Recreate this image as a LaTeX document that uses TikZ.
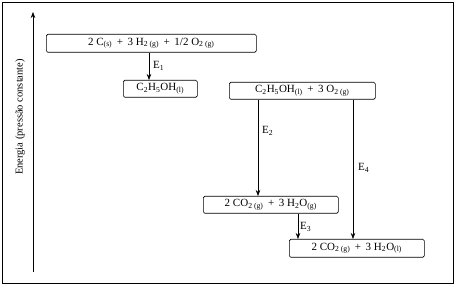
\documentclass[tikz,border=0pt]{standalone}
\usepackage{fontspec}
\setmainfont{Liberation Serif}
\usetikzlibrary{arrows.meta}
\newcommand\sbs[1]{\textsubscript{#1}}
\newcommand\pl{\ \,+\ \,}
\tikzset{
  lvl/.style={draw, rounded corners=1.5pt, line width=0.6pt, inner sep=0pt, font=\fontsize{11}{12}\selectfont, anchor=north west},
  arr/.style={-{Stealth[length=6pt,width=4.5pt]}, line width=0.6pt},
  lab/.style={font=\fontsize{11}{12}\selectfont, anchor=west, inner sep=1pt}
}
\begin{document}
\begin{tikzpicture}[x=1pt,y=-1pt]
\useasboundingbox (0,0) rectangle (456,286);
\draw[line width=0.8pt] (2,2) rectangle (453,283);
% axis
\coordinate (ax0) at (33,272);
\coordinate (ax1) at (33,12);
\draw[arr] (ax0) -- (ax1);
\node[rotate=90, font=\fontsize{10.5}{12}\selectfont] (axl) at (20,117) {Energia (pressão constante)};
% levels
\node[lvl, minimum width=210pt, minimum height=18pt] (b1) at (46,34) {2 C\sbs{(s)}\pl 3 H\sbs{2 (g)}\pl 1/2 O\sbs{2 (g)}};
\node[lvl, minimum width=74pt, minimum height=17pt] (b2) at (123,80) {C\sbs{2}H\sbs{5}OH\sbs{(l)}};
\node[lvl, minimum width=146pt, minimum height=17pt] (b3) at (229,82) {C\sbs{2}H\sbs{5}OH\sbs{(l)}\pl 3 O\sbs{2 (g)}};
\node[lvl, minimum width=135pt, minimum height=17pt] (b4) at (203,196) {2 CO\sbs{2 (g)}\pl 3 H\sbs{2}O\sbs{(g)}};
\node[lvl, minimum width=135pt, minimum height=18pt] (b5) at (289,239) {2 CO\sbs{2 (g)}\pl 3 H\sbs{2}O\sbs{(l)}};
% arrows
\draw[arr] (b1.south -| 149,0) -- (b2.north -| 149,0);
\node[lab] (e1) at (152,66) {E\sbs{1}};
\draw[arr] (b3.south -| 258,0) -- (b4.north -| 258,0);
\node[lab] (e2) at (261,131) {E\sbs{2}};
\draw[arr] (b3.south -| 353,0) -- (b5.north -| 353,0);
\node[lab] (e4) at (357,168) {E\sbs{4}};
\draw[arr] (b4.south -| 298,0) -- (b5.north -| 298,0);
\node[lab] (e3) at (299,227) {E\sbs{3}};
\end{tikzpicture}
\end{document}
